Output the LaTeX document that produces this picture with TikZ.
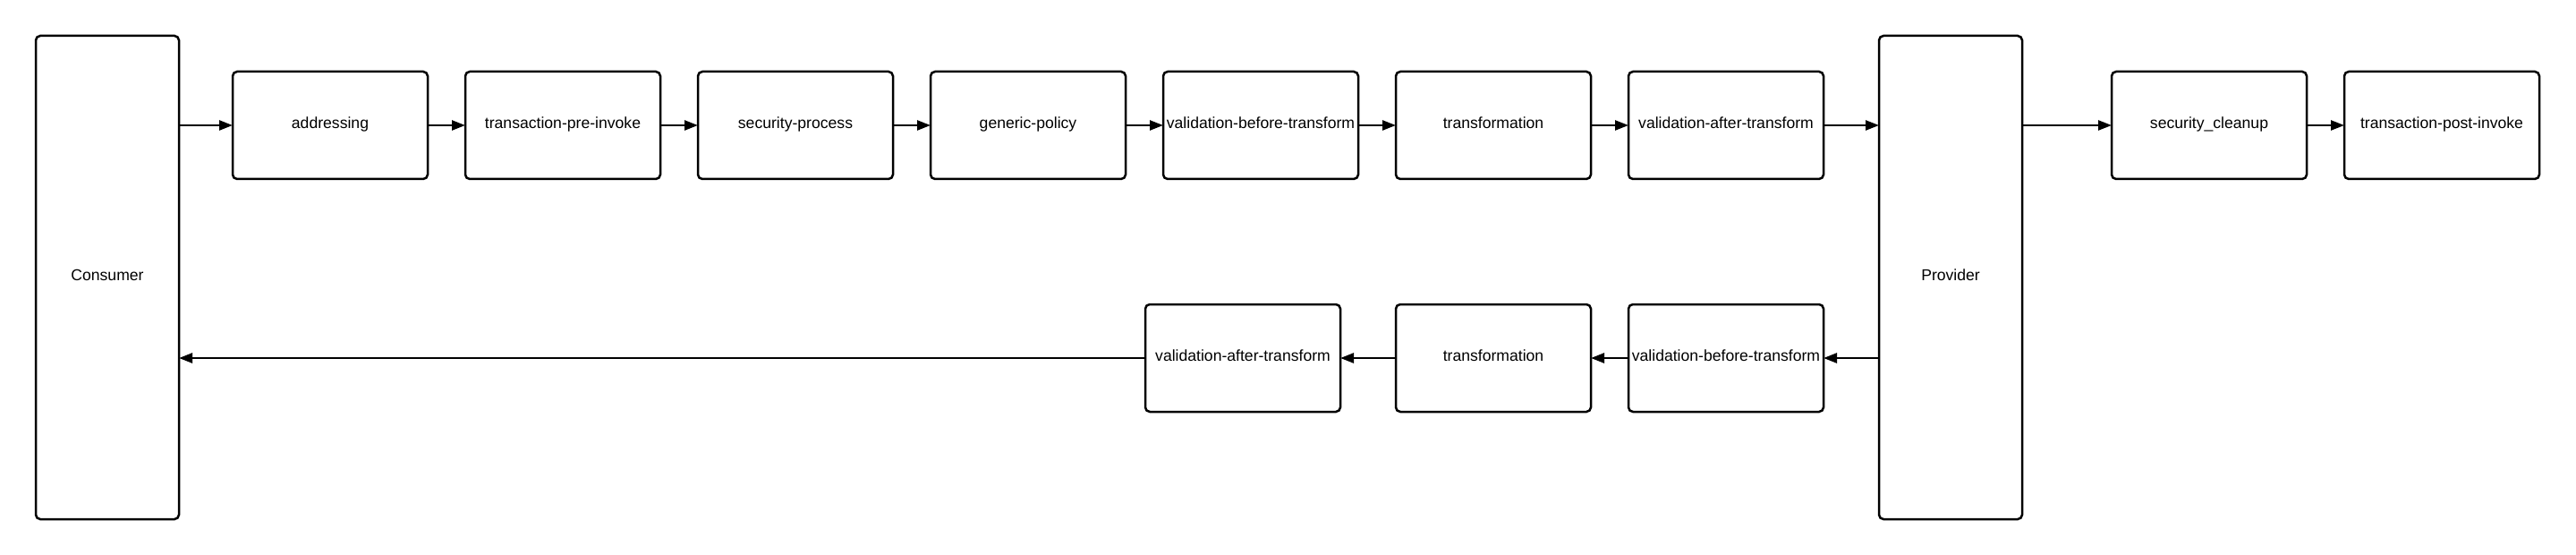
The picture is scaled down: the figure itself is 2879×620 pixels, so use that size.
\documentclass[tikz,border=0pt]{standalone}
\usepackage{fontspec}
\setmainfont{Liberation Sans}
\usetikzlibrary{arrows.meta}
\begin{document}
\begin{tikzpicture}[x=1pt,y=-1pt,
  box/.style={draw,line width=2.5pt,rounded corners=5pt,minimum width=218pt,minimum height=120pt,inner sep=0pt,outer sep=0pt,text height=12.6pt,text depth=6pt,font=\fontsize{17.6}{21}\selectfont},
  tallbox/.style={box,minimum width=160pt,minimum height=540pt},
  flow/.style={line width=2.5pt,-{Triangle[length=15pt,width=11pt]}}]
\useasboundingbox[fill=white] (0,0) rectangle (2879,620);
\node[tallbox] (cons) at (120,310) {Consumer};
\node[tallbox] (prov) at (2180,310) {Provider};
\node[box] (addr) at (369,140) {addressing};
\node[box] (tpre) at (629,140) {transaction-pre-invoke};
\node[box] (secp) at (889,140) {security-process};
\node[box] (gpol) at (1149,140) {generic-policy};
\node[box] (vbt1) at (1409,140) {validation-before-transform};
\node[box] (tr1) at (1669,140) {transformation};
\node[box] (vat1) at (1929,140) {validation-after-transform};
\node[box] (secc) at (2469,140) {security\_cleanup};
\node[box] (tpost) at (2729,140) {transaction-post-invoke};
\node[box] (vbt2) at (1929,400) {validation-before-transform};
\node[box] (tr2) at (1669,400) {transformation};
\node[box] (vat2) at (1389,400) {validation-after-transform};
\draw[flow] (addr.west -| cons.east) -- (addr.west);
\draw[flow] (addr) -- (tpre);
\draw[flow] (tpre) -- (secp);
\draw[flow] (secp) -- (gpol);
\draw[flow] (gpol) -- (vbt1);
\draw[flow] (vbt1) -- (tr1);
\draw[flow] (tr1) -- (vat1);
\draw[flow] (vat1.east) -- (vat1.east -| prov.west);
\draw[flow] (secc.west -| prov.east) -- (secc.west);
\draw[flow] (secc) -- (tpost);
\draw[flow] (vbt2.east -| prov.west) -- (vbt2.east);
\draw[flow] (vbt2) -- (tr2);
\draw[flow] (tr2) -- (vat2);
\draw[flow] (vat2.west) -- (vat2.west -| cons.east);
\end{tikzpicture}
\end{document}
